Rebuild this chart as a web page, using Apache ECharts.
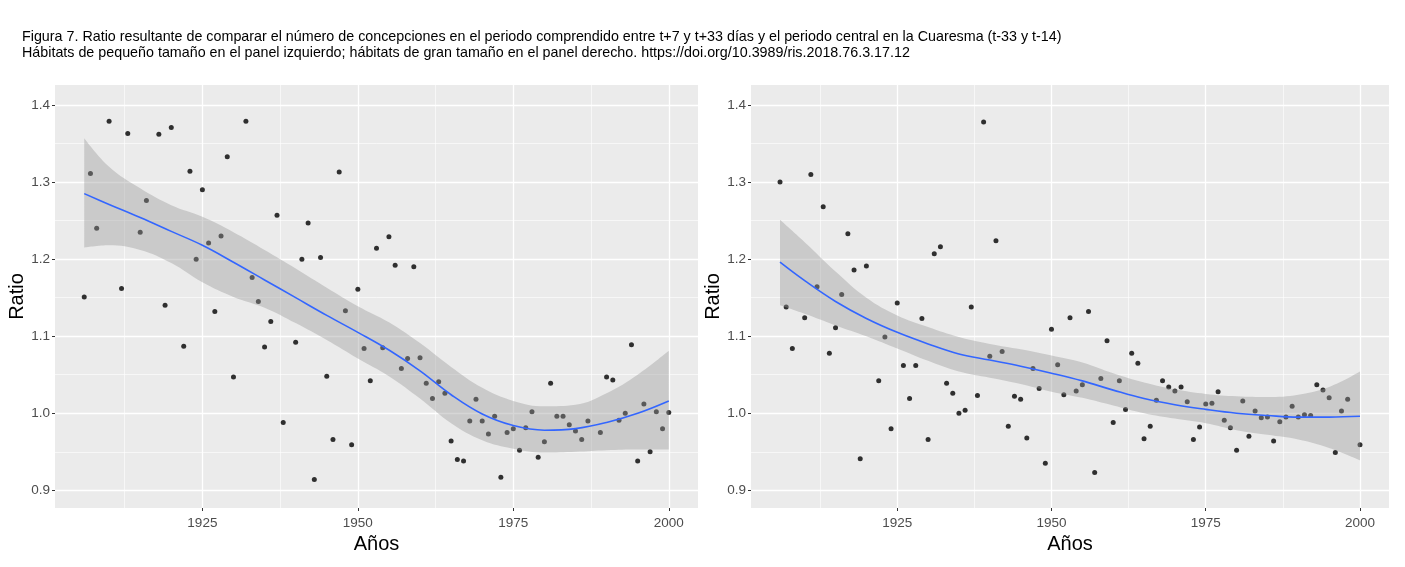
<!DOCTYPE html>
<html>
<head>
<meta charset="utf-8">
<title>Figura 7</title>
<script src="https://cdn.jsdelivr.net/npm/echarts@6.0.0/dist/echarts.min.js"></script>
<style>
  html, body { margin: 0; padding: 0; background: #fff; }
  #chart { width: 1405px; height: 567px; }
</style>
</head>
<body>
<div id="chart"></div>
<script>
// puntos anuales, panel izquierdo (hábitats pequeños)
var yearsLeft = [1906, 1907, 1908, 1910, 1912, 1913, 1915, 1916, 1918, 1919, 1920, 1922, 1923, 1924, 1925, 1926, 1927, 1928, 1929, 1930,
    1932, 1933, 1934, 1935, 1936, 1937, 1938, 1940, 1941, 1942, 1943, 1944, 1945, 1946, 1947, 1948, 1949, 1950, 1951, 1952,
    1953, 1954, 1955, 1956, 1957, 1958, 1959, 1960, 1961, 1962, 1963, 1964, 1965, 1966, 1967, 1968, 1969, 1970, 1971, 1972,
    1973, 1974, 1975, 1976, 1977, 1978, 1979, 1980, 1981, 1982, 1983, 1984, 1985, 1986, 1987, 1989, 1990, 1991, 1992, 1993,
    1994, 1995, 1996, 1997, 1998, 1999, 2000];
var ratioLeft = [1.151, 1.311, 1.240, 1.379, 1.162, 1.363, 1.235, 1.276, 1.362, 1.140, 1.371, 1.087, 1.314, 1.200, 1.290, 1.221, 1.132, 1.230, 1.333, 1.047,
    1.379, 1.176, 1.145, 1.086, 1.119, 1.257, 0.988, 1.092, 1.200, 1.247, 0.914, 1.202, 1.048, 0.966, 1.313, 1.133, 0.959, 1.161, 1.084, 1.042,
    1.214, 1.085, 1.229, 1.192, 1.058, 1.071, 1.190, 1.072, 1.039, 1.019, 1.041, 1.026, 0.964, 0.940, 0.938, 0.990, 1.018, 0.990, 0.973, 0.996,
    0.917, 0.975, 0.980, 0.952, 0.981, 1.002, 0.943, 0.963, 1.039, 0.996, 0.996, 0.985, 0.977, 0.966, 0.990, 0.975, 1.047, 1.043, 0.991, 1.000,
    1.089, 0.938, 1.012, 0.950, 1.002, 0.980, 1.001];

// puntos anuales, panel derecho (hábitats grandes)
var yearsRight = [1906, 1907, 1908, 1910, 1911, 1912, 1913, 1914, 1915, 1916, 1917, 1918, 1919, 1920, 1922, 1923, 1924, 1925, 1926, 1927,
    1928, 1929, 1930, 1931, 1932, 1933, 1934, 1935, 1936, 1937, 1938, 1939, 1940, 1941, 1942, 1943, 1944, 1945, 1946, 1947,
    1948, 1949, 1950, 1951, 1952, 1953, 1954, 1955, 1956, 1957, 1958, 1959, 1960, 1961, 1962, 1963, 1964, 1965, 1966, 1967,
    1968, 1969, 1970, 1971, 1972, 1973, 1974, 1975, 1976, 1977, 1978, 1979, 1980, 1981, 1982, 1983, 1984, 1985, 1986, 1987,
    1988, 1989, 1990, 1991, 1992, 1993, 1994, 1995, 1996, 1997, 1998, 2000];
var ratioRight = [1.300, 1.138, 1.084, 1.124, 1.310, 1.164, 1.268, 1.078, 1.111, 1.154, 1.233, 1.186, 0.941, 1.191, 1.042, 1.099, 0.980, 1.143, 1.062, 1.019,
    1.062, 1.123, 0.966, 1.207, 1.216, 1.039, 1.026, 1.000, 1.004, 1.138, 1.023, 1.378, 1.074, 1.224, 1.080, 0.983, 1.022, 1.018, 0.968, 1.058,
    1.032, 0.935, 1.109, 1.063, 1.024, 1.124, 1.029, 1.037, 1.132, 0.923, 1.045, 1.094, 0.988, 1.042, 1.005, 1.078, 1.065, 0.967, 0.983, 1.017,
    1.042, 1.034, 1.029, 1.034, 1.015, 0.966, 0.982, 1.012, 1.013, 1.028, 0.991, 0.981, 0.952, 1.016, 0.970, 1.003, 0.994, 0.995, 0.964, 0.989,
    0.995, 1.009, 0.995, 0.998, 0.997, 1.037, 1.030, 1.020, 0.949, 1.003, 1.018, 0.959];

var fitYears = [1906, 1910, 1915, 1920, 1925, 1930, 1935, 1940, 1945, 1950, 1955, 1960, 1965, 1970, 1975, 1980, 1985, 1990, 1995, 2000];
var fitLeft = [1.285, 1.271, 1.254, 1.236, 1.218, 1.196, 1.173, 1.150, 1.127, 1.105, 1.082, 1.055, 1.024, 0.999, 0.984, 0.978, 0.980, 0.988, 1.000, 1.016];
var loLeft = [1.215, 1.218, 1.212, 1.195, 1.170, 1.151, 1.137, 1.117, 1.095, 1.071, 1.048, 1.019, 0.987, 0.965, 0.954, 0.949, 0.950, 0.952, 0.953, 0.953];
var hiLeft = [1.357, 1.320, 1.292, 1.270, 1.255, 1.235, 1.212, 1.188, 1.163, 1.139, 1.118, 1.091, 1.060, 1.033, 1.016, 1.009, 1.011, 1.026, 1.050, 1.081];
var fitRight = [1.196, 1.172, 1.145, 1.123, 1.105, 1.090, 1.077, 1.069, 1.061, 1.052, 1.042, 1.030, 1.019, 1.011, 1.005, 1.000, 0.997, 0.995, 0.995, 0.996];
var loRight = [1.140, 1.129, 1.114, 1.100, 1.084, 1.068, 1.054, 1.046, 1.038, 1.028, 1.020, 1.010, 1.000, 0.993, 0.987, 0.978, 0.972, 0.966, 0.955, 0.939];
var hiRight = [1.251, 1.222, 1.184, 1.150, 1.127, 1.112, 1.099, 1.090, 1.083, 1.075, 1.066, 1.052, 1.040, 1.031, 1.025, 1.022, 1.021, 1.024, 1.034, 1.054];

// ticks y rejilla
var xTicks = [1925, 1950, 1975, 2000];
var xMinor = [1912.5, 1937.5, 1962.5, 1987.5];
var yTicks = [0.9, 1.0, 1.1, 1.2, 1.3, 1.4];
var yMinor = [0.95, 1.05, 1.15, 1.25, 1.35];

var titleLines = [
    'Figura 7. Ratio resultante de comparar el número de concepciones en el periodo comprendido entre t+7 y t+33 días y el periodo central en la Cuaresma (t-33 y t-14)',
    'Hábitats de pequeño tamaño en el panel izquierdo; hábitats de gran tamaño en el panel derecho. https://doi.org/10.3989/ris.2018.76.3.17.12'
];

var FONT = '"Liberation Sans", Arial, sans-serif';

// [valor, año]: el valor va primero para que el apilado se haga sobre el eje y
function pairsVY(xs, ys) {
    var out = [];
    for (var i = 0; i < xs.length; i++) out.push([ys[i], xs[i]]);
    return out;
}

function gridLines() {
    var d = [];
    xTicks.forEach(function(v) { d.push({ xAxis: v, lineStyle: { width: 1.3 } }); });
    xMinor.forEach(function(v) { d.push({ xAxis: v, lineStyle: { width: 0.6 } }); });
    yTicks.forEach(function(v) { d.push({ yAxis: v, lineStyle: { width: 1.3 } }); });
    yMinor.forEach(function(v) { d.push({ yAxis: v, lineStyle: { width: 0.6 } }); });
    return d;
}

function xAx(i) {
    return {
        type: 'value', gridIndex: i, min: 1901.3, max: 2004.7,
        name: 'Años', nameLocation: 'middle', nameGap: 25,
        nameTextStyle: { fontSize: 20, color: '#000', fontFamily: FONT },
        axisLine: { show: false },
        splitLine: { show: false },
        axisTick: { show: true, length: 3, customValues: xTicks, lineStyle: { color: '#333' } },
        axisLabel: {
            customValues: xTicks, fontSize: 13.5, color: '#4d4d4d', fontFamily: FONT, margin: 8,
            formatter: function(v) { return String(v); }
        }
    };
}

function yAx(i) {
    return {
        type: 'value', gridIndex: i, min: 0.877, max: 1.426,
        name: 'Ratio', nameLocation: 'middle', nameGap: 24,
        nameTextStyle: { fontSize: 20, color: '#000', fontFamily: FONT },
        axisLine: { show: false },
        splitLine: { show: false },
        axisTick: { show: true, length: 3, customValues: yTicks, lineStyle: { color: '#333' } },
        axisLabel: {
            customValues: yTicks, fontSize: 13.5, color: '#4d4d4d', fontFamily: FONT, margin: 5,
            formatter: function(v) { return v.toFixed(1); }
        }
    };
}

function panelSeries(i, xs, ys, fit, lo, hi) {
    var diff = hi.map(function(h, k) { return h - lo[k]; });
    var enc = { x: 1, y: 0 };
    return [{
            // borde inferior de la banda (invisible) + rejilla
            type: 'line', xAxisIndex: i, yAxisIndex: i, stack: 'banda' + i,
            data: pairsVY(fitYears, lo), encode: enc, smooth: 0.4, symbol: 'none', z: 1,
            lineStyle: { opacity: 0 },
            markLine: {
                silent: true, symbol: 'none', label: { show: false }, animation: false, z: 1,
                lineStyle: { color: '#ffffff', type: 'solid' },
                data: gridLines()
            }
        },
        {
            type: 'scatter', xAxisIndex: i, yAxisIndex: i,
            data: pairsVY(xs, ys), encode: enc, symbolSize: 5, z: 2,
            itemStyle: { color: '#000' }
        },
        {
            type: 'line', xAxisIndex: i, yAxisIndex: i, stack: 'banda' + i,
            data: pairsVY(fitYears, diff), encode: enc, smooth: 0.4, symbol: 'none', z: 3,
            lineStyle: { opacity: 0 },
            areaStyle: { color: 'rgba(153,153,153,0.4)', opacity: 1 }
        },
        {
            type: 'line', xAxisIndex: i, yAxisIndex: i,
            data: pairsVY(fitYears, fit), encode: enc, smooth: 0.4, symbol: 'none', z: 4,
            lineStyle: { color: '#3366ff', width: 1.6 }
        }
    ];
}

var myChart = echarts.init(document.getElementById('chart'), null, { renderer: 'canvas' });

var option = {
    animation: false,
    backgroundColor: '#ffffff',
    textStyle: { fontFamily: FONT },
    title: {
        text: titleLines.join('\n'),
        left: 22, top: 29, padding: 0,
        textStyle: { fontSize: 14.3, fontWeight: 'normal', color: '#000', lineHeight: 16, fontFamily: FONT }
    },
    grid: [
        { left: 55, top: 85, width: 643, height: 423, show: true, backgroundColor: '#ebebeb', borderWidth: 0 },
        { left: 751, top: 85, width: 638, height: 423, show: true, backgroundColor: '#ebebeb', borderWidth: 0 }
    ],
    xAxis: [xAx(0), xAx(1)],
    yAxis: [yAx(0), yAx(1)],
    series: panelSeries(0, yearsLeft, ratioLeft, fitLeft, loLeft, hiLeft)
        .concat(panelSeries(1, yearsRight, ratioRight, fitRight, loRight, hiRight))
};

option && myChart.setOption(option);
</script>
</body>
</html>
